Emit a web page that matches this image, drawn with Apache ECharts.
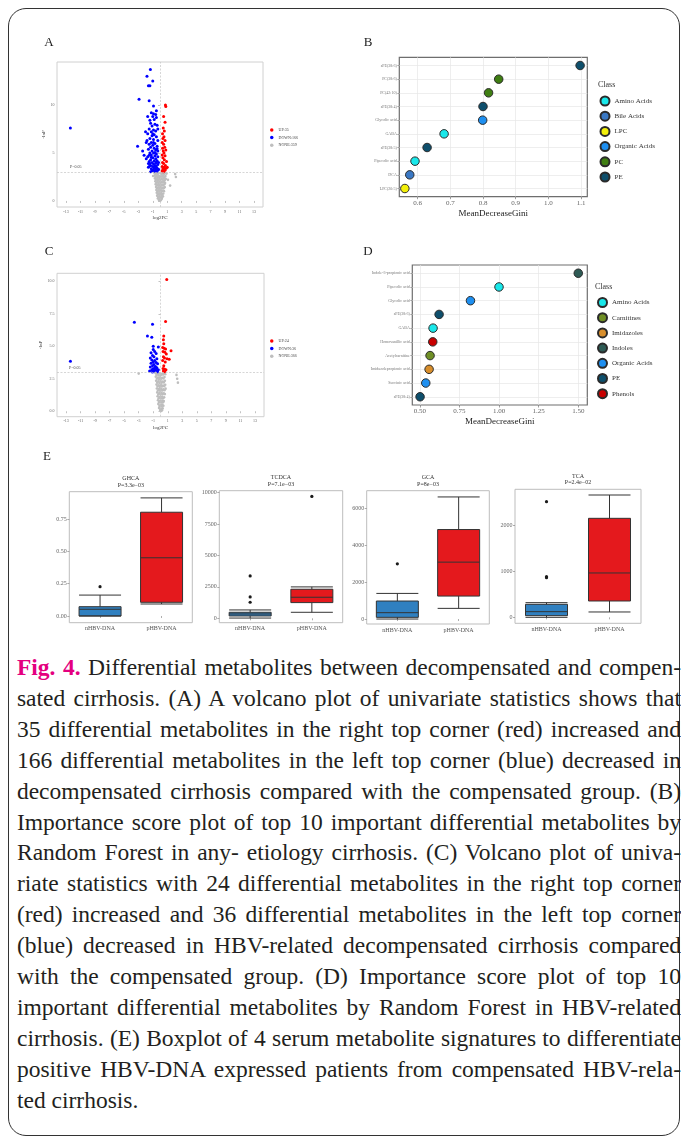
<!DOCTYPE html>
<html><head><meta charset="utf-8">
<script src="https://cdn.jsdelivr.net/npm/echarts@6/dist/echarts.min.js"></script>
<style>
html,body{margin:0;padding:0;background:#fff;overflow:hidden;width:681px;height:1139px;}
#card{position:absolute;left:8px;top:8px;width:672px;height:1128px;border:1px solid #333;border-radius:18px;box-sizing:border-box;}
#chart{position:absolute;left:0;top:0;width:681px;height:645px;}
#cap{position:absolute;left:17px;top:652px;width:664px;font-family:'Liberation Serif','Times New Roman',Times,serif;font-size:23.5px;line-height:30.9px;color:#231f20;}
#cap div{text-align:justify;text-align-last:justify;}
#cap div.last{text-align-last:left;}
#cap b{color:#e4007f;}
</style></head>
<body>
<div id="card"></div>
<div id="chart"></div>
<div id="cap">
<div><b>Fig. 4.</b> Differential metabolites between decompensated and compen-</div>
<div>sated cirrhosis. (A) A volcano plot of univariate statistics shows that</div>
<div>35 differential metabolites in the right top corner (red) increased and</div>
<div>166 differential metabolites in the left top corner (blue) decreased in</div>
<div>decompensated cirrhosis compared with the compensated group. (B)</div>
<div>Importance score plot of top 10 important differential metabolites by</div>
<div>Random Forest in any- etiology cirrhosis. (C) Volcano plot of univa-</div>
<div>riate statistics with 24 differential metabolites in the right top corner</div>
<div>(red) increased and 36 differential metabolites in the left top corner</div>
<div>(blue) decreased in HBV-related decompensated cirrhosis compared</div>
<div>with the compensated group. (D) Importance score plot of top 10</div>
<div>important differential metabolites by Random Forest in HBV-related</div>
<div>cirrhosis. (E) Boxplot of 4 serum metabolite signatures to differentiate</div>
<div>positive HBV-DNA expressed patients from compensated HBV-rela-</div>
<div class="last">ted cirrhosis.</div>
</div>
<script>
// ---------------- DATA ----------------
const volcanoXTicks = [-13,-11,-9,-7,-5,-3,-1,1,3,5,7,9,11,13];
const volcanoAYTicks = [0,5,10];
const volcanoAYLabels = ['0','5','10'];
const volcanoCYTicks = [0,2.5,5,7.5,10];
const volcanoCYLabels = ['0.0','2.5','5.0','7.5','10.0'];
const volcanoALegend = ['UP:35','DOWN:166','NONE:359'];
const volcanoCLegend = ['UP:24','DOWN:36','NONE:366'];
const pThreshold = 3.0;

const aUp = [[0.75,10.0],[0.8,9.85],[0.5,8.8],[0.7,8.2],[0.45,7.6],[0.6,7.3],[0.35,7.0],[0.55,6.7],[0.4,6.5],[0.7,6.3],[0.3,6.1],[0.5,5.9],[0.65,5.6],[0.35,5.5],[0.8,5.3],[0.45,5.2],[0.55,5.0],[0.3,4.8],[0.7,4.7],[0.4,4.5],[0.6,4.3],[0.9,4.1],[0.35,4.0],[0.5,3.9],[0.75,3.7],[0.3,3.6],[0.55,3.5],[1.0,3.5],[0.4,3.35],[0.65,3.3],[0.85,3.4],[0.3,3.15],[0.5,3.1],[0.7,3.2],[0.45,3.05]];
const aDown = [[-1.33,13.7],[-1.8,13.0],[-1.0,12.5],[-1.6,12.0],[-1.4,12.0],[-2.9,10.6],[-1.5,10.45],[-0.9,9.9],[-12.4,7.6],[-3.1,5.7],[-2.2,4.75],
[-1.2,9.2],[-0.9,9.1],[-0.6,9.0],[-1.0,8.8],[-0.5,8.7],[-1.4,8.4],[-0.8,8.5],[-1.3,8.1],[-0.7,8.0],[-1.1,7.8],[-0.4,7.9],[-1.5,7.5],[-0.9,7.4],[-2.0,7.2],[-1.2,7.2],[-0.6,7.3],[-1.7,7.0],[-0.8,6.9],[-1.1,6.8],[-0.5,6.7],[-1.4,6.5],[-0.9,6.4],[-1.8,6.3],[-0.3,6.3],[-1.2,6.1],[-0.7,6.0],[-1.5,5.9],[-1.0,5.8],[-0.4,5.7],[-1.3,5.6],[-0.8,5.5],[-1.6,5.4],[-0.6,5.3],[-1.1,5.2],[-0.3,5.2],[-1.4,5.0],[-0.9,5.0],[-0.5,4.9],[-1.2,4.8],[-0.7,4.7],[-1.7,4.6],[-0.3,4.6],[-1.0,4.5],[-0.6,4.4],[-1.3,4.3],[-0.8,4.2],[-0.4,4.2],[-1.5,4.1],[-1.1,4.0],[-0.6,3.95],[-0.9,3.85],[-0.3,3.8],[-1.3,3.7],[-0.7,3.7],[-1.0,3.6],[-0.5,3.55],[-1.6,3.5],[-0.8,3.45],[-0.4,3.4],[-1.2,3.35],[-0.6,3.3],[-0.9,3.25],[-0.3,3.2],[-1.1,3.15],[-0.7,3.1],[-0.5,3.08],[-1.4,3.9],[-1.9,4.4],[-2.4,5.2],[-1.7,8.8],[-0.5,9.4],[-1.9,6.1],[-1.6,3.9],[-1.0,7.0],[-0.3,7.5],[-0.8,3.55],[-0.5,4.05],[-1.2,4.55],[-0.7,5.05],[-0.9,6.1],[-0.4,5.45],[-1.5,4.75],[-0.2,3.3],[-0.2,4.0],[-1.3,3.05],[-1.0,3.2],[-0.6,3.65],[-1.5,3.6]];
const aNone = [[-0.8,2.95],[-0.5,2.9],[-0.2,2.92],[0.1,2.88],[0.4,2.95],[0.7,2.9],[-0.65,2.8],[-0.35,2.78],[0.25,2.8],[0.55,2.82],[0.9,2.85],
[-0.75,2.65],[-0.45,2.6],[-0.15,2.62],[0.15,2.58],[0.45,2.64],[0.75,2.6],[-0.6,2.5],[-0.3,2.48],[0.0,2.5],[0.3,2.52],[0.6,2.46],
[-0.7,2.35],[-0.4,2.3],[-0.1,2.32],[0.2,2.28],[0.5,2.34],[0.8,2.3],[-0.55,2.2],[-0.25,2.18],[0.05,2.2],[0.35,2.22],[0.65,2.16],
[-0.65,2.05],[-0.35,2.0],[-0.05,2.02],[0.25,1.98],[0.55,2.04],[-0.5,1.9],[-0.2,1.88],[0.1,1.9],[0.4,1.92],[0.7,1.86],
[-0.6,1.75],[-0.3,1.7],[0.0,1.72],[0.3,1.68],[0.6,1.74],[-0.45,1.6],[-0.15,1.58],[0.15,1.6],[0.45,1.62],
[-0.55,1.45],[-0.25,1.4],[0.05,1.42],[0.35,1.38],[0.65,1.44],[-0.4,1.3],[-0.1,1.28],[0.2,1.3],[0.5,1.32],
[-0.5,1.15],[-0.2,1.1],[0.1,1.12],[0.4,1.08],[-0.35,1.0],[-0.05,0.98],[0.25,1.0],[0.55,1.02],
[-0.45,0.85],[-0.15,0.8],[0.15,0.82],[0.45,0.78],[-0.3,0.7],[0.0,0.68],[0.3,0.7],
[-0.4,0.55],[-0.1,0.5],[0.2,0.52],[0.4,0.48],[-0.25,0.4],[0.05,0.38],[0.3,0.4],
[-0.3,0.25],[0.0,0.2],[0.25,0.22],[-0.15,0.1],[0.1,0.08],[0.0,0.02],
[2.1,2.8],[2.2,2.5],[1.4,1.6],[1.1,2.2],[-0.95,2.6]];

const cUp = [[0.86,10.15],[0.7,6.9],[0.45,5.8],[0.4,5.5],[0.45,5.2],[0.3,4.9],[0.5,4.85],[0.7,4.8],[1.45,4.65],[0.35,4.6],[0.6,4.55],[0.8,4.4],[0.4,4.2],[0.55,4.1],[0.9,4.05],[1.2,4.0],[0.3,3.9],[0.65,3.8],[0.45,3.5],[0.35,3.3],[0.55,3.25],[0.75,3.2],[0.4,3.1],[0.6,3.05]];
const cDown = [[-12.4,3.85],[-3.6,6.85],[-1.1,6.7],[-1.8,5.8],[-1.2,5.7],[-1.0,5.0],[-0.3,4.95],[-1.0,4.75],[-0.8,4.6],[-1.3,4.5],[-0.6,4.45],[-1.1,4.3],[-0.9,4.2],[-1.4,4.1],[-0.5,4.05],[-1.2,3.95],[-0.8,3.9],[-1.0,3.8],[-0.6,3.75],[-1.3,3.7],[-0.4,3.65],[-0.9,3.6],[-1.1,3.5],[-0.7,3.45],[-1.4,3.4],[-0.5,3.35],[-1.0,3.3],[-0.8,3.25],[-1.2,3.2],[-0.3,3.2],[-0.6,3.15],[-1.5,3.1],[-0.9,3.1],[-0.4,3.05],[-1.1,3.02],[-0.7,3.4]];
const cNone = [[-0.7,2.95],[-0.4,2.9],[-0.1,2.92],[0.2,2.88],[0.5,2.94],[-0.55,2.8],[-0.25,2.78],[0.05,2.8],[0.35,2.82],[0.65,2.85],
[-0.65,2.65],[-0.35,2.6],[-0.05,2.62],[0.25,2.58],[0.55,2.64],[-0.5,2.5],[-0.2,2.48],[0.1,2.5],[0.4,2.52],
[-0.6,2.35],[-0.3,2.3],[0.0,2.32],[0.3,2.28],[0.6,2.34],[-0.45,2.2],[-0.15,2.18],[0.15,2.2],[0.45,2.22],
[-0.55,2.05],[-0.25,2.0],[0.05,2.02],[0.35,1.98],[0.65,2.04],[-0.4,1.9],[-0.1,1.88],[0.2,1.9],[0.5,1.92],
[-0.5,1.75],[-0.2,1.7],[0.1,1.72],[0.4,1.68],[0.7,1.74],[-0.35,1.6],[-0.05,1.58],[0.25,1.6],[0.55,1.62],
[-0.45,1.45],[-0.15,1.4],[0.15,1.42],[0.45,1.38],[-0.3,1.3],[0.0,1.28],[0.3,1.3],[0.6,1.32],
[-0.4,1.15],[-0.1,1.1],[0.2,1.12],[0.5,1.08],[-0.25,1.0],[0.05,0.98],[0.35,1.0],
[-0.35,0.85],[-0.05,0.8],[0.25,0.82],[0.45,0.78],[-0.2,0.7],[0.1,0.68],[0.35,0.7],
[-0.3,0.55],[0.0,0.5],[0.25,0.52],[-0.15,0.4],[0.15,0.38],[0.4,0.42],
[-0.2,0.25],[0.05,0.2],[0.3,0.22],[-0.05,0.1],[0.2,0.08],[0.1,0.02],
[2.2,2.8],[2.3,2.5],[2.4,2.2],[-3.0,2.9]];

const bNames = ['sPE(38:6)','PC(38:6)','PC(42:10)','sPE(38:4)','Glycolic acid','GABA','sPE(38:5)','Pipecolic acid','DCA','LPC(20:5)'];
const bValues = [1.097,0.848,0.817,0.800,0.799,0.681,0.629,0.592,0.576,0.561];
const bClasses = ['PE','PC','PC','PE','Organic Acids','Amino Acids','PE','Amino Acids','Bile Acids','LPC'];
const bClassOrder = ['Amino Acids','Bile Acids','LPC','Organic Acids','PC','PE'];
const bXTicks = [0.6,0.7,0.8,0.9,1.0,1.1];
const bXLabels = ['0.6','0.7','0.8','0.9','1.0','1.1'];

const dNames = ['Indole-3-propionic acid','Pipecolic acid','Glycolic acid','sPE(38:6)','GABA','Homovanillic acid','Acetylcarnitine','Imidazolepropionic acid','Succinic acid','sPE(38:4)'];
const dValues = [1.500,1.000,0.820,0.622,0.584,0.582,0.565,0.559,0.538,0.502];
const dClasses = ['Indoles','Amino Acids','Organic Acids','PE','Amino Acids','Phenols','Carnitines','Imidazoles','Organic Acids','PE'];
const dClassOrder = ['Amino Acids','Carnitines','Imidazoles','Indoles','Organic Acids','PE','Phenols'];
const dXTicks = [0.5,0.75,1.0,1.25,1.5];
const dXLabels = ['0.50','0.75','1.00','1.25','1.50'];

const boxGroups = ['nHBV-DNA','pHBV-DNA'];
const boxTitles = ['GHCA','TCDCA','GCA','TCA'];
const boxPvalues = ['P=3.3e\u221203','P=7.1e\u221203','P=8e\u221203','P=2.4e\u221202'];
// [min, Q1, median, Q3, max] per group
const ghcaStats = [[0.0,0.0,0.052,0.072,0.162],[0.093,0.106,0.451,0.804,0.915]];
const ghcaOutliers = [[0,0.227]];
const ghcaTicks = [0,0.25,0.5,0.75];
const ghcaTickLabels = ['0.00','0.25','0.50','0.75'];
const tcdcaStats = [[20,186,346,479,665],[479,1250,1676,2314,2500]];
const tcdcaOutliers = [[0,1277],[0,1702],[0,3378],[1,9707]];
const tcdcaTicks = [0,2500,5000,7500,10000];
const tcdcaTickLabels = ['0','2500','5000','7500','10000'];
const gcaStats = [[0,90,343,975,1387],[577,1243,3081,4847,6613]];
const gcaOutliers = [[0,2991]];
const gcaTicks = [0,2000,4000,6000];
const gcaTickLabels = ['0','2000','4000','6000'];
const tcaStats = [[0,36,123,283,319],[116,355,964,2152,2659]];
const tcaOutliers = [[0,862],[0,884],[0,2514]];
const tcaTicks = [0,1000,2000];
const tcaTickLabels = ['0','1000','2000'];

// ---------------- STYLE / LAYOUT ----------------
const SERIF = "'Liberation Serif', 'Times New Roman', serif";
const classColors = {'Amino Acids':'#19e8ea','Bile Acids':'#3a78c4','LPC':'#f2ef0a','Organic Acids':'#1e8ff0','PC':'#3f7e12','PE':'#0e4f6c','Carnitines':'#6f8f25','Imidazoles':'#d88e2c','Indoles':'#2e5b55','Phenols':'#c80000'};
const boxColors = ['#3080c0','#e4191d'];

const grids=[], xAxes=[], yAxes=[], series=[], legends=[], graphics=[];
function txt(x,y,t,size,color,align,vAlign,rot){
  graphics.push({type:'text',x:x,y:y,rotation:rot||0,style:{text:t,fill:color||'#222',font:size+'px '+SERIF,textAlign:align||'left',textVerticalAlign:vAlign||'middle'}});
}
function fmt(ticks,labels){return function(v){const i=ticks.findIndex(t=>Math.abs(t-v)<1e-9);return i>=0?labels[i]:'';};}

function volcano(rect, yMin, yMax, yTicks, yLabels, up, down, none, legNames, legPos){
  const gi=grids.length;
  grids.push({left:rect[0],top:rect[1],width:rect[2],height:rect[3],show:true,borderColor:'#d0d0d0',borderWidth:1,outerBoundsMode:'none'});
  xAxes.push({gridIndex:gi,type:'value',min:-14.25,max:14.25,axisLine:{show:false},
    axisTick:{show:true,length:2,lineStyle:{color:'#9a9a9a',width:0.6},customValues:volcanoXTicks},
    axisLabel:{customValues:volcanoXTicks,fontSize:4,color:'#666',margin:2.5,fontFamily:SERIF},
    splitLine:{show:false},name:'log2FC',nameLocation:'middle',nameGap:8,nameTextStyle:{fontSize:5,color:'#333',fontFamily:SERIF}});
  yAxes.push({gridIndex:gi,type:'value',min:yMin,max:yMax,axisLine:{show:false},
    axisTick:{show:true,length:2,lineStyle:{color:'#9a9a9a',width:0.6},customValues:yTicks},
    axisLabel:{customValues:yTicks,formatter:fmt(yTicks,yLabels),fontSize:4,color:'#666',margin:2.5,fontFamily:SERIF},
    splitLine:{show:false},name:'-lnP',nameLocation:'middle',nameGap:10,nameRotate:90,nameTextStyle:{fontSize:5,color:'#333',fontFamily:SERIF}});
  series.push({type:'scatter',name:legNames[2],xAxisIndex:gi,yAxisIndex:gi,data:none,symbolSize:2.6,itemStyle:{color:'#bebebe',opacity:1},
    markLine:{silent:true,symbol:['none','none'],label:{show:false},lineStyle:{color:'#c4c4c4',type:[2,1.5],width:0.7},data:[{yAxis:pThreshold},{xAxis:0}]}});
  series.push({type:'scatter',name:legNames[1],xAxisIndex:gi,yAxisIndex:gi,data:down,symbolSize:3,itemStyle:{color:'#0000ff',opacity:1}});
  series.push({type:'scatter',name:legNames[0],xAxisIndex:gi,yAxisIndex:gi,data:up,symbolSize:3,itemStyle:{color:'#ff0000',opacity:1}});
  legends.push({data:legNames,orient:'vertical',left:legPos[0],top:legPos[1],padding:0,itemWidth:3.5,itemHeight:3.5,itemGap:3.6,icon:'circle',
    textStyle:{fontSize:4,color:'#444',fontFamily:SERIF}});
}

function dotplot(rect, xMin, xMax, xTicks, xLabels, names, values, classes, classOrder, legPos){
  const gi=grids.length;
  const n=names.length;
  grids.push({left:rect[0],top:rect[1],width:rect[2],height:rect[3],show:true,borderColor:'#6e6e6e',borderWidth:1.2,outerBoundsMode:'none'});
  xAxes.push({gridIndex:gi,type:'value',min:xMin,max:xMax,axisLine:{show:false},
    axisTick:{show:true,length:2.5,lineStyle:{color:'#777',width:0.7},customValues:xTicks},
    axisLabel:{customValues:xTicks,formatter:fmt(xTicks,xLabels),fontSize:7,color:'#666',margin:3,fontFamily:SERIF},
    splitLine:{show:true,lineStyle:{color:'#e6e6e6',width:0.7}},
    name:'MeanDecreaseGini',nameLocation:'middle',nameGap:12,nameTextStyle:{fontSize:9,color:'#222',fontFamily:SERIF}});
  const yTicks=names.map((_,i)=>n-i);
  yAxes.push({gridIndex:gi,type:'value',min:0.4,max:n+0.6,axisLine:{show:false},
    axisTick:{show:true,length:2,lineStyle:{color:'#777',width:0.6},customValues:yTicks},
    axisLabel:{customValues:yTicks,formatter:fmt(yTicks,names),fontSize:4,color:'#777',margin:2.5,fontFamily:SERIF},
    splitLine:{show:true,lineStyle:{color:'#e6e6e6',width:0.7}}});
  classOrder.forEach(c=>{
    const data=[];
    names.forEach((nm,i)=>{ if(classes[i]===c) data.push([values[i], n-i]); });
    series.push({type:'scatter',name:c,xAxisIndex:gi,yAxisIndex:gi,data:data,symbol:'circle',symbolSize:8.5,
      itemStyle:{color:classColors[c],borderColor:'#2a2a2a',borderWidth:1,opacity:1}});
  });
  legends.push({data:classOrder,orient:'vertical',left:legPos[0],top:legPos[1],padding:0,itemWidth:9,itemHeight:9,itemGap:4.2,icon:'circle',
    textStyle:{fontSize:7,color:'#333',fontFamily:SERIF}});
}

function boxpanel(rect, yMin, yMax, ticks, tickLabels, stats, outliers, title, pval){
  const gi=grids.length;
  grids.push({left:rect[0],top:rect[1],width:rect[2],height:rect[3],show:true,borderColor:'#bdbdbd',borderWidth:1,outerBoundsMode:'none'});
  xAxes.push({gridIndex:gi,type:'category',data:boxGroups,axisLine:{show:false},
    axisTick:{show:true,alignWithLabel:true,length:2,lineStyle:{color:'#777',width:0.6}},
    axisLabel:{fontSize:6,color:'#555',margin:3,fontFamily:SERIF},splitLine:{show:false}});
  yAxes.push({gridIndex:gi,type:'value',min:yMin,max:yMax,axisLine:{show:false},
    axisTick:{show:true,length:2,lineStyle:{color:'#777',width:0.6},customValues:ticks},
    axisLabel:{customValues:ticks,formatter:fmt(ticks,tickLabels),fontSize:6,color:'#666',margin:2.5,fontFamily:SERIF},
    splitLine:{show:false}});
  series.push({type:'boxplot',xAxisIndex:gi,yAxisIndex:gi,boxWidth:[42,42],
    itemStyle:{borderColor:'#333',borderWidth:1},
    data:stats.map((s,i)=>({value:s,itemStyle:{color:boxColors[i],borderColor:'#333',borderWidth:1}}))});
  series.push({type:'scatter',xAxisIndex:gi,yAxisIndex:gi,data:outliers.map(o=>[boxGroups[o[0]],o[1]]),symbolSize:3.2,itemStyle:{color:'#1a1a1a',opacity:1}});
  const cx=rect[0]+rect[2]/2;
  txt(cx,rect[1]-13,title,6,'#333','center');
  txt(cx,rect[1]-6.5,pval,6,'#333','center');
}

volcano([57,62,206,145],-0.63,14.48,volcanoAYTicks,volcanoAYLabels,aUp,aDown,aNone,volcanoALegend,[270,128]);
dotplot([399.3,57.3,188,139.4],0.544,1.119,bXTicks,bXLabels,bNames,bValues,bClasses,bClassOrder,[599.5,95.5]);
volcano([57,273.3,207,143.4],-0.42,10.62,volcanoCYTicks,volcanoCYLabels,cUp,cDown,cNone,volcanoCLegend,[270,339]);
dotplot([412.3,265,175,140],0.453,1.557,dXTicks,dXLabels,dNames,dValues,dClasses,dClassOrder,[597,297]);
boxpanel([69.3,491.7,123,131],-0.052,0.963,ghcaTicks,ghcaTickLabels,ghcaStats,ghcaOutliers,boxTitles[0],boxPvalues[0]);
boxpanel([219.3,490.7,123.4,132],-350,10160,tcdcaTicks,tcdcaTickLabels,tcdcaStats,tcdcaOutliers,boxTitles[1],boxPvalues[1]);
boxpanel([366.7,490.7,122.6,133.3],-270,6951,gcaTicks,gcaTickLabels,gcaStats,gcaOutliers,boxTitles[2],boxPvalues[2]);
boxpanel([515,489.3,126,134],-130,2783,tcaTicks,tcaTickLabels,tcaStats,tcaOutliers,boxTitles[3],boxPvalues[3]);

txt(49,43,'A',13,'#222','center');
txt(368,43,'B',13,'#222','center');
txt(49,252,'C',13,'#222','center');
txt(368,252,'D',13,'#222','center');
txt(47,457,'E',13,'#222','center');
txt(598,85,'Class',8,'#333','left');
txt(595,287,'Class',8,'#333','left');
txt(70,167,'P=0.05',4,'#444','left');
txt(69,368,'P=0.05',4,'#444','left');

const chart = echarts.init(document.getElementById('chart'),null,{renderer:'canvas'});
chart.setOption({animation:false,textStyle:{fontFamily:SERIF},grid:grids,xAxis:xAxes,yAxis:yAxes,series:series,legend:legends,graphic:graphics,tooltip:{show:false}});

// fit caption lines so each stays on one line (compress letters slightly if too long)
const CAPW = 664;
document.querySelectorAll('#cap div').forEach(d=>{
  const s=document.createElement('span'); s.style.whiteSpace='nowrap';
  while(d.firstChild) s.appendChild(d.firstChild);
  d.appendChild(s);
  const w=s.getBoundingClientRect().width;
  if(w>CAPW-1){ const n=s.textContent.length; d.style.letterSpacing=(-(w-CAPW+2)/n).toFixed(3)+'px'; }
  while(s.firstChild) d.insertBefore(s.firstChild,s);
  d.removeChild(s);
});
</script>
</body></html>
